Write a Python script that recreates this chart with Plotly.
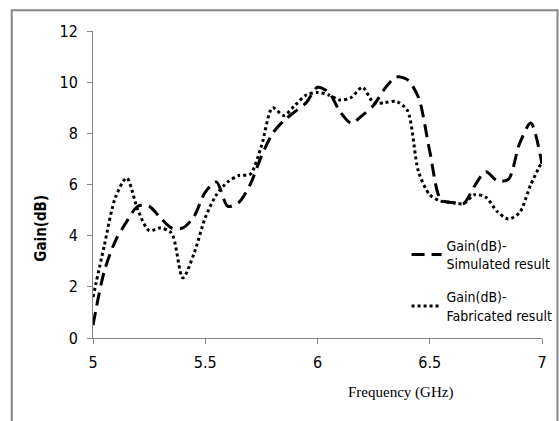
import plotly.graph_objects as go

# ---- data ----
freq = [5.0, 5.05, 5.1, 5.15, 5.2, 5.25, 5.3, 5.35, 5.4, 5.45, 5.5, 5.55, 5.6, 5.65,
        5.7, 5.75, 5.8, 5.85, 5.9, 5.95, 6.0, 6.05, 6.1, 6.15, 6.2, 6.25, 6.3, 6.35,
        6.4, 6.45, 6.5, 6.55, 6.6, 6.65, 6.7, 6.75, 6.8, 6.85, 6.9, 6.95, 7.0]

gain_simulated = [0.5, 2.6, 3.8, 4.55, 5.15, 5.15, 4.7, 4.3, 4.3, 4.75, 5.7, 6.1, 5.15, 5.3,
                  6.0, 7.1, 8.0, 8.5, 8.85, 9.2, 9.8, 9.6, 8.85, 8.4, 8.7, 9.1, 9.75, 10.2,
                  10.1, 9.4, 7.3, 5.4, 5.3, 5.25, 5.95, 6.5, 6.15, 6.2, 7.6, 8.4, 6.8]

gain_fabricated = [1.6, 3.6, 5.5, 6.25, 5.0, 4.2, 4.3, 4.1, 2.35, 3.3, 4.7, 5.6, 6.1, 6.35,
                   6.4, 7.5, 9.0, 8.7, 9.1, 9.5, 9.6, 9.5, 9.3, 9.4, 9.8, 9.2, 9.2, 9.25,
                   8.9, 6.5, 5.6, 5.35, 5.3, 5.25, 5.6, 5.5, 4.95, 4.65, 4.9, 6.0, 6.9]

x_ticks = [5, 5.5, 6, 6.5, 7]
x_tick_labels = ["5", "5.5", "6", "6.5", "7"]
y_ticks = [0, 2, 4, 6, 8, 10, 12]
y_tick_labels = ["0", "2", "4", "6", "8", "10", "12"]

series_names = ["Gain(dB)-<br>Simulated result", "Gain(dB)-<br>Fabricated result"]

NARROW = "DejaVu Sans Condensed, Liberation Sans Narrow, Arial Narrow, sans-serif"
AXIS_GRAY = "#868686"

fig = go.Figure()
fig.add_trace(go.Scatter(
    x=freq, y=gain_simulated, mode="lines", name=series_names[0], legendgroup="sim",
    line=dict(color="black", width=3, dash="13px,7px", shape="spline", smoothing=0.8),
))
fig.add_trace(go.Scatter(
    x=freq, y=gain_fabricated, mode="lines", name=series_names[1], legendgroup="fab",
    line=dict(color="black", width=3, dash="dot", shape="spline", smoothing=0.8),
))

# plot-area geometry in pixels
L, R, T, B = 93.3, 542.5, 30.7, 338.3
W, H = R - L, B - T
def px_x(p):
    return (p - L) / W
def px_y(p):
    return (B - p) / H

# outer chart border (gray frame as in the reference)
fig.add_shape(type="rect", xref="paper", yref="paper",
              x0=px_x(12), x1=px_x(558), y0=px_y(430), y1=px_y(10),
              line=dict(color=AXIS_GRAY, width=2), fillcolor="rgba(0,0,0,0)", layer="below")

fig.add_annotation(text="Frequency (GHz)", xref="paper", yref="paper",
                   x=px_x(401), y=px_y(393), xanchor="center", yanchor="middle", showarrow=False,
                   font=dict(family="Liberation Serif, Times New Roman, serif", size=15, color="black"))
fig.add_annotation(text="<b>Gain(dB)</b>", xref="paper", yref="paper",
                   x=px_x(41), y=px_y(228), xanchor="center", yanchor="middle", showarrow=False,
                   textangle=-90,
                   font=dict(family=NARROW, size=15, color="black"))

fig.update_layout(
    width=559, height=421,
    margin=dict(l=L, r=559 - R, t=T, b=421 - B, pad=0, autoexpand=False),
    paper_bgcolor="white", plot_bgcolor="white",
    showlegend=True,
    legend=dict(x=px_x(407), y=px_y(230), xanchor="left", yanchor="top",
                font=dict(family=NARROW, size=14, color="black"),
                bgcolor="rgba(0,0,0,0)", itemwidth=30, tracegroupgap=12,
                traceorder="grouped"),
    xaxis=dict(range=[5, 7], tickvals=x_ticks, ticktext=x_tick_labels,
               showgrid=False, zeroline=False, showline=True, linecolor=AXIS_GRAY, linewidth=1,
               ticks="outside", ticklen=5, tickcolor=AXIS_GRAY, ticklabelstandoff=5,
               tickfont=dict(family=NARROW, size=16, color="black")),
    yaxis=dict(range=[0, 12], tickvals=y_ticks, ticktext=y_tick_labels,
               showgrid=False, zeroline=False, showline=True, linecolor=AXIS_GRAY, linewidth=1,
               ticks="outside", ticklen=5, tickcolor=AXIS_GRAY, ticklabelstandoff=6,
               tickfont=dict(family=NARROW, size=16, color="black")),
)

fig.write_html("out.html")
